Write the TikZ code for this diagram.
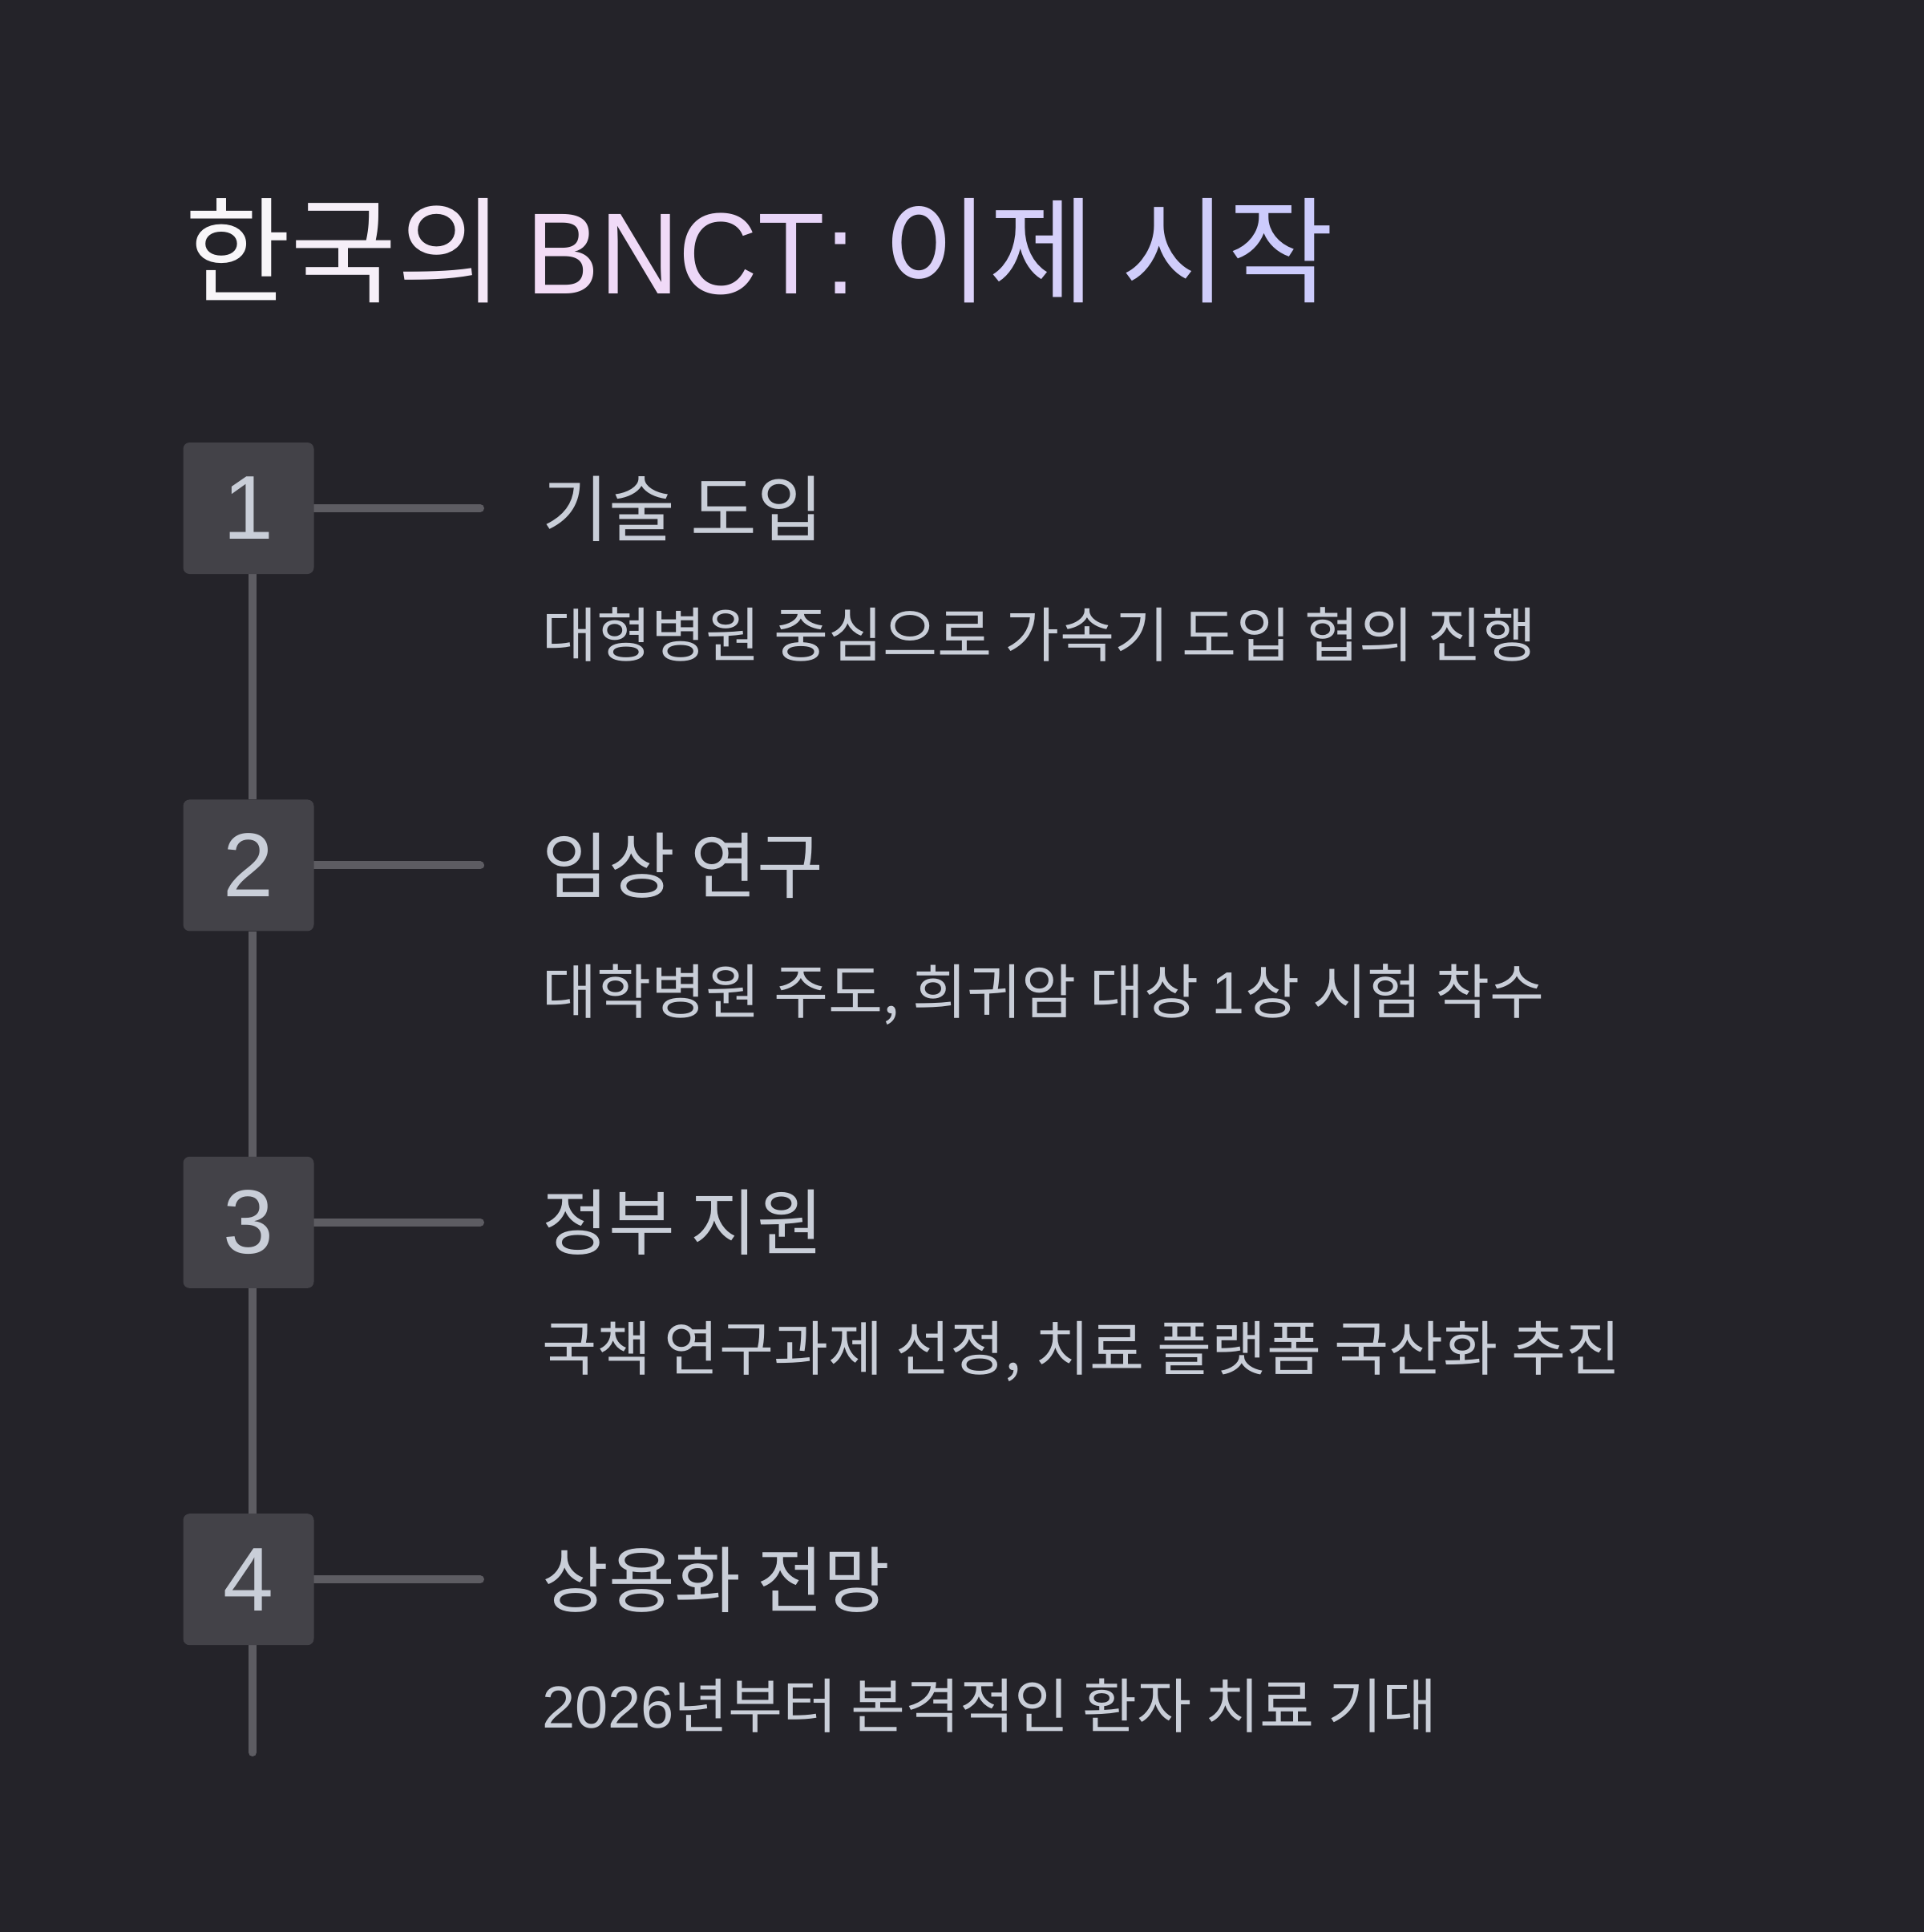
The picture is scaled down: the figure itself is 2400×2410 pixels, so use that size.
\documentclass[tikz,border=0pt]{standalone}
\usepackage{fontspec}
\newfontfamily\kr{Noto Sans CJK KR}
\newfontfamily\lat{Liberation Sans}
\newfontfamily\latn[FakeStretch=0.95]{Liberation Sans}
\definecolor{bgc}{HTML}{242329}
\definecolor{boxc}{HTML}{434248}
\definecolor{linec}{HTML}{5D5C62}
\definecolor{txt}{HTML}{C9CED8}
\definecolor{t1}{HTML}{F8F6F9}
\definecolor{t2}{HTML}{F6EFF8}
\definecolor{t3}{HTML}{F4E7F7}
\definecolor{t4}{HTML}{F3DCF6}
\definecolor{t5}{HTML}{F0DAF7}
\definecolor{t6}{HTML}{ECD7F7}
\definecolor{t7}{HTML}{E8D5F8}
\definecolor{t8}{HTML}{E4D4F8}
\definecolor{t9}{HTML}{DCD2F9}
\definecolor{t10}{HTML}{D6D0FA}
\definecolor{t11}{HTML}{D0CDFB}
\definecolor{t12}{HTML}{CCCBFC}
\pgfdeclarelayer{bg}
\pgfsetlayers{bg,main}
\begin{document}
\begin{tikzpicture}[x=1pt,y=-1pt,
  numbox/.style={minimum width=163pt,minimum height=164pt,inner sep=0pt,fill=boxc,rounded corners=8pt,text=txt,font=\lat\fontsize{113}{113}\selectfont},
  head/.style={anchor=base west,inner sep=0pt,text=txt,font=\kr\fontsize{90}{90}\selectfont},
  subtxt/.style={anchor=base west,inner sep=0pt,text=txt,font=\kr\fontsize{74}{74}\selectfont},
  conn/.style={draw=linec,line width=10pt},
  title/.style={anchor=base west,inner sep=0pt,font=\fontsize{144}{144}\selectfont}]
\useasboundingbox (0,0) rectangle (2400,2410);
\begin{pgfonlayer}{bg}
\fill[bgc] (0,0) rectangle (2400,2410);
\end{pgfonlayer}

\node[title] (ttl) at (230,366) {\kr\textcolor{t1}{한}\textcolor{t2}{국}\textcolor{t3}{의}\hspace{-3pt} \latn\textcolor{t4}{B}\textcolor{t5}{N}\textcolor{t6}{C}\textcolor{t7}{T}\textcolor{t8}{:}\hspace{-4pt} \kr\textcolor{t9}{이}\textcolor{t10}{제} \textcolor{t11}{시}\textcolor{t12}{작}};

\node[numbox] (b1) at (310,634) {1};
\node[numbox] (b2) at (310,1079.4) {2};
\node[numbox] (b3) at (310,1524.8) {3};
\node[numbox] (b4) at (310,1970.2) {4};

\coordinate (e1) at (599,634);
\coordinate (e2) at (599,1079.4);
\coordinate (e3) at (599,1524.8);
\coordinate (e4) at (599,1970.2);
\coordinate (vend) at (315,2186);

\node[head] (h1) at (676,668) {기술 도입};
\node[subtxt] (s1) at (676,819) {대형병원 중심으로 가속기 도입 협의 진행};
\node[head] (h2) at (676,1113.4) {임상 연구};
\node[subtxt] (s2) at (676,1264.4) {대학병원 주도, 희귀암 대상 {\lat 1}상 시험 착수};
\node[head] (h3) at (676,1558.8) {정부 지원};
\node[subtxt] (s3) at (676,1709.8) {국책 연구과제 선정, 치료 플랫폼 국산화 추진};
\node[head] (h4) at (676,2004.2) {상용화 전망};
\node[subtxt] (s4) at (676,2155.2) {{\lat 2026}년부터 본격적인 환자 치료 기대};

\begin{pgfonlayer}{bg}
\draw[conn] ([xshift=5pt]b1.south) -- ([xshift=5pt]b2.north);
\draw[conn] ([xshift=5pt]b2.south) -- ([xshift=5pt]b3.north);
\draw[conn] ([xshift=5pt]b3.south) -- ([xshift=5pt]b4.north);
\draw[conn,line cap=round] ([xshift=5pt]b4.center) -- (vend);
\draw[conn,line cap=round] (b1.center) -- (e1);
\draw[conn,line cap=round] (b2.center) -- (e2);
\draw[conn,line cap=round] (b3.center) -- (e3);
\draw[conn,line cap=round] (b4.center) -- (e4);
\end{pgfonlayer}
\end{tikzpicture}
\end{document}
